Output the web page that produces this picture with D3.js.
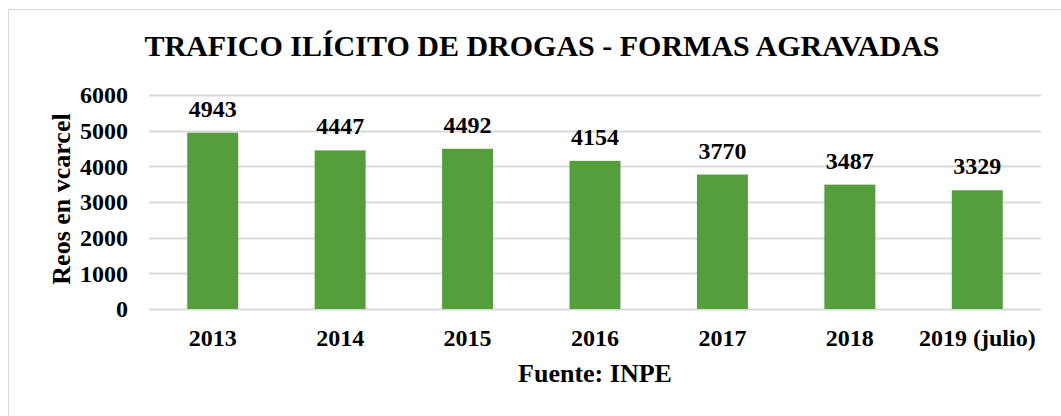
<!DOCTYPE html>
<html>
<head>
<meta charset="utf-8">
<script src="https://cdn.jsdelivr.net/npm/d3@7"></script>
<style>
  body { margin: 0; background: #fff; }
  svg text { font-family: "Liberation Serif", "Times New Roman", serif; font-weight: bold; fill: #000; }
</style>
</head>
<body>
<div id="chart"></div>
<script>
const years = ["2013", "2014", "2015", "2016", "2017", "2018", "2019 (julio)"];
const reos = [4943, 4447, 4492, 4154, 3770, 3487, 3329];
const yTicks = [0, 1000, 2000, 3000, 4000, 5000, 6000];

const data = years.map((y, i) => ({ year: y, value: reos[i] }));

const W = 1061, H = 416;
const margin = { top: 95, right: 20, bottom: 107, left: 149 };
const width = 1041 - margin.left;
const height = 309 - margin.top;

const svg = d3.select("#chart")
    .append("svg")
    .attr("width", W)
    .attr("height", H);

// chart border
svg.append("rect")
    .attr("x", 8.5).attr("y", 9.5)
    .attr("width", W + 10).attr("height", H + 10)
    .attr("fill", "#fff")
    .attr("stroke", "#d9d9d9")
    .attr("stroke-width", 1);

svg.append("text")
    .attr("x", 542)
    .attr("y", 56)
    .attr("text-anchor", "middle")
    .style("font-size", "30px")
    .text("TRAFICO ILÍCITO DE DROGAS - FORMAS AGRAVADAS");

const g = svg.append("g")
    .attr("transform", `translate(${margin.left},${margin.top})`);

const x = d3.scaleBand()
    .domain(years)
    .range([0, width])
    .paddingInner(0.6)
    .paddingOuter(0.3);

const y = d3.scaleLinear()
    .domain([0, 6000])
    .range([height, 0]);

// gridlines
g.append("g")
    .selectAll("line")
    .data(yTicks)
    .enter()
    .append("line")
    .attr("x1", 0)
    .attr("x2", width)
    .attr("y1", d => Math.round(y(d)) + 0.5)
    .attr("y2", d => Math.round(y(d)) + 0.5)
    .attr("stroke", "#d9d9d9")
    .attr("stroke-width", 2);

g.selectAll(".bar")
    .data(data)
    .enter()
    .append("rect")
    .attr("class", "bar")
    .attr("x", d => x(d.year))
    .attr("y", d => y(d.value))
    .attr("width", x.bandwidth())
    .attr("height", d => height - y(d.value))
    .attr("fill", "#549e3b");

g.selectAll(".val")
    .data(data)
    .enter()
    .append("text")
    .attr("class", "val")
    .attr("x", d => x(d.year) + x.bandwidth() / 2)
    .attr("y", d => y(d.value) - 16)
    .attr("text-anchor", "middle")
    .style("font-size", "24px")
    .text(d => d.value);

const yAxis = g.append("g")
    .call(d3.axisLeft(y).tickValues(yTicks).tickFormat(d3.format("d")).tickSize(0).tickPadding(21));
yAxis.select(".domain").remove();
yAxis.selectAll("text")
    .style("font-size", "24px")
    .attr("dy", "0.33em");

const xAxis = g.append("g")
    .attr("transform", `translate(0,${height})`)
    .call(d3.axisBottom(x).tickSize(0).tickPadding(20));
xAxis.select(".domain").remove();
xAxis.selectAll("text")
    .style("font-size", "24px");

svg.append("text")
    .attr("transform", "rotate(-90)")
    .attr("x", -(margin.top + height / 2) + 3)
    .attr("y", 70)
    .attr("text-anchor", "middle")
    .style("font-size", "26px")
    .text("Reos en vcarcel");

svg.append("text")
    .attr("x", margin.left + width / 2)
    .attr("y", 382)
    .attr("text-anchor", "middle")
    .style("font-size", "26px")
    .text("Fuente: INPE");
</script>
</body>
</html>
